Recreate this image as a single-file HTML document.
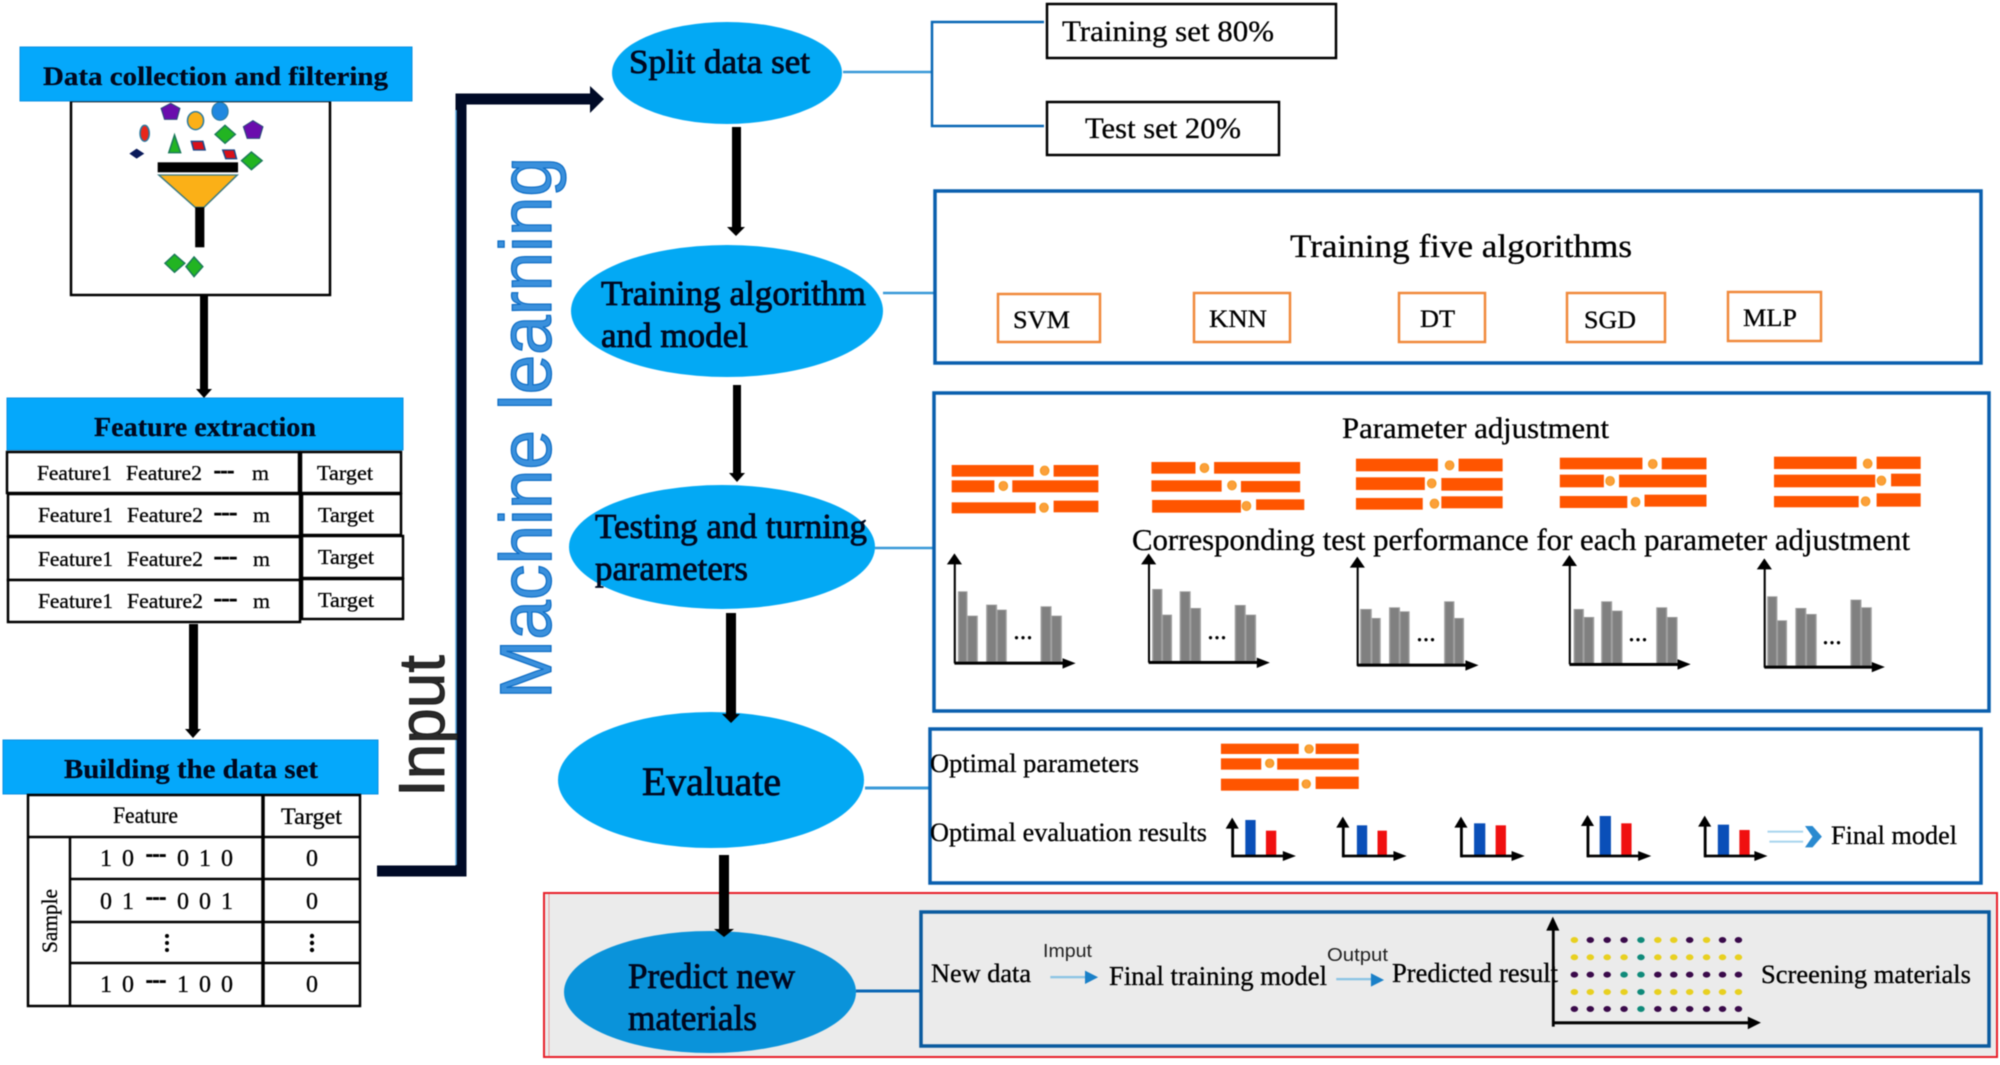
<!DOCTYPE html>
<html><head><meta charset="utf-8"><style>
html,body{margin:0;padding:0;background:#fff;width:2000px;height:1065px;overflow:hidden}
svg{display:block;filter:blur(.6px)}
text{font-family:"Liberation Serif",serif;fill:#000;stroke:#000;stroke-width:.3}
.s{font-family:"Liberation Sans",sans-serif}
.m{stroke:#000820;stroke-width:.8;fill:#000820}
.h{font-weight:bold;fill:#000820;stroke-width:.2}
rect.k{fill:#fff;stroke:#000;stroke-width:2.5}
rect.o{fill:#fff;stroke:#f08a3c;stroke-width:2.5}
rect.bb{fill:#fff;stroke:#0a5fae;stroke-width:3.5}
.r{fill:#ff5500}
.c{fill:#fca03a;stroke:#f59a23;stroke-width:2}
.g{fill:#808080;stroke:#a0a0a0;stroke-width:2}
.d{stroke-width:1}
</style></head><body>
<svg width="2000" height="1065" viewBox="0 0 2000 1065" xmlns="http://www.w3.org/2000/svg">
<rect width="2000" height="1065" fill="#fff"/>

<!-- left column -->
<rect x="71" y="101" width="259" height="194" class="k"/>
<rect x="20" y="47" width="392" height="54" fill="#05a8fb" stroke="#0a90e0"/>
<text x="43" y="85" font-size="26" class="h" textLength="345" lengthAdjust="spacingAndGlyphs">Data collection and filtering</text>

<g transform="scale(.3827,.3333)">
<polygon points="446,310 470,325 462,358 430,358 421,325" fill="#6a0dad" stroke="#2a4a7a" stroke-width="3"/>
<ellipse cx="511" cy="362" rx="21" ry="27" fill="#fbb017" stroke="#2a7aa0" stroke-width="4"/>
<ellipse cx="575" cy="334" rx="21" ry="27" fill="#1f88e0" stroke="#2a7aa0" stroke-width="3"/>
<polygon points="661,362 687,380 678,415 646,415 636,380" fill="#6a0dad" stroke="#2a4a7a" stroke-width="3"/>
<polygon points="588,376 615,403 588,430 562,403" fill="#22b422" stroke="#1a7a5a" stroke-width="4"/>
<ellipse cx="378" cy="400" rx="12" ry="24" fill="#e8261a" stroke="#2a7aa0" stroke-width="4"/>
<polygon points="456,405 472,458 441,458" fill="#22b422" stroke="#1a7a5a" stroke-width="4"/>
<polygon points="500,424 530,424 536,450 506,450" fill="#d8101a" stroke="#1a4a8a" stroke-width="4"/>
<polygon points="582,450 612,450 618,476 590,476" fill="#d8101a" stroke="#1a4a8a" stroke-width="4"/>
<polygon points="657,456 685,482 657,509 631,482" fill="#22b422" stroke="#1a7a5a" stroke-width="4"/>
<polygon points="357,446 377,461 357,476 338,461" fill="#0a1a5a"/>
<rect x="412" y="487" width="210" height="30" fill="#000"/>
<polygon points="415,525 620,525 533,622 510,622" fill="#fbb017" stroke="#3a7a80" stroke-width="4"/>
<rect x="510" y="622" width="24" height="120" fill="#000"/>
<polygon points="456,763 483,790 456,817 431,790" fill="#22b422" stroke="#1a7a5a" stroke-width="4"/>
<polygon points="507,771 530,800 507,830 486,800" fill="#22b422" stroke="#1a7a5a" stroke-width="4"/>
</g>

<rect x="200" y="295" width="8" height="97" fill="#000"/>
<polygon points="204,398 196,389 212,389" fill="#000"/>

<rect x="7" y="398" width="396" height="52" fill="#05a8fb" stroke="#0a90e0"/>
<text x="94" y="436" font-size="27" class="h" textLength="222" lengthAdjust="spacingAndGlyphs">Feature extraction</text>
<rect x="7" y="452" width="292" height="41" class="k"/><rect x="301" y="452" width="100" height="41" class="k"/>
<rect x="8" y="494" width="292" height="42" class="k"/><rect x="302" y="494" width="99" height="41" class="k"/>
<rect x="8" y="537" width="292" height="43" class="k"/><rect x="302" y="536" width="101" height="42" class="k"/>
<rect x="8" y="580" width="292" height="42" class="k"/><rect x="302" y="579" width="101" height="40" class="k"/>

<g font-size="21">
<text x="37" y="480" textLength="75" lengthAdjust="spacingAndGlyphs">Feature1</text><text x="126" y="480" textLength="76" lengthAdjust="spacingAndGlyphs">Feature2</text><text class="d" x="214" y="477" font-weight="bold" textLength="20" lengthAdjust="spacingAndGlyphs">---</text><text x="252" y="480" textLength="17" lengthAdjust="spacingAndGlyphs">m</text><text x="317" y="480" textLength="56" lengthAdjust="spacingAndGlyphs">Target</text>
<text x="38" y="522" textLength="75" lengthAdjust="spacingAndGlyphs">Feature1</text><text x="127" y="522" textLength="76" lengthAdjust="spacingAndGlyphs">Feature2</text><text class="d" x="214" y="519" font-weight="bold" textLength="23" lengthAdjust="spacingAndGlyphs">---</text><text x="253" y="522" textLength="17" lengthAdjust="spacingAndGlyphs">m</text><text x="318" y="522" textLength="56" lengthAdjust="spacingAndGlyphs">Target</text>
<text x="38" y="566" textLength="75" lengthAdjust="spacingAndGlyphs">Feature1</text><text x="127" y="566" textLength="76" lengthAdjust="spacingAndGlyphs">Feature2</text><text class="d" x="214" y="563" font-weight="bold" textLength="23" lengthAdjust="spacingAndGlyphs">---</text><text x="253" y="566" textLength="17" lengthAdjust="spacingAndGlyphs">m</text><text x="318" y="564" textLength="56" lengthAdjust="spacingAndGlyphs">Target</text>
<text x="38" y="608" textLength="75" lengthAdjust="spacingAndGlyphs">Feature1</text><text x="127" y="608" textLength="76" lengthAdjust="spacingAndGlyphs">Feature2</text><text class="d" x="214" y="605" font-weight="bold" textLength="23" lengthAdjust="spacingAndGlyphs">---</text><text x="253" y="608" textLength="17" lengthAdjust="spacingAndGlyphs">m</text><text x="318" y="607" textLength="56" lengthAdjust="spacingAndGlyphs">Target</text>
</g>

<rect x="189" y="624" width="9" height="106" fill="#000"/>
<polygon points="193,738 185,729 201,729" fill="#000"/>

<rect x="3" y="740" width="375" height="54" fill="#05a8fb" stroke="#0a90e0"/>
<text x="64" y="778" font-size="27" class="h" textLength="254" lengthAdjust="spacingAndGlyphs">Building the data set</text>

<g fill="none" stroke="#000" stroke-width="2.5">
<rect x="28" y="795" width="332" height="211" fill="#fff"/>
<line x1="263" y1="795" x2="263" y2="1006" stroke-width="3.5"/>
<line x1="70" y1="837" x2="70" y2="1006"/>
<line x1="28" y1="837" x2="360" y2="837"/>
<line x1="70" y1="879" x2="360" y2="879"/>
<line x1="70" y1="922" x2="360" y2="922"/>
<line x1="70" y1="963" x2="360" y2="963"/>
</g>
<text x="113" y="823" font-size="23" textLength="65" lengthAdjust="spacingAndGlyphs">Feature</text>
<text x="281" y="824" font-size="23" textLength="61" lengthAdjust="spacingAndGlyphs">Target</text>
<g font-size="24" text-anchor="middle">
<text x="106" y="866">1</text><text x="128" y="866">0</text><text x="183" y="866">0</text><text x="205" y="866">1</text><text x="227" y="866">0</text><text x="312" y="866">0</text>
<text x="106" y="909">0</text><text x="128" y="909">1</text><text x="183" y="909">0</text><text x="205" y="909">0</text><text x="227" y="909">1</text><text x="312" y="909">0</text>
<text x="106" y="992">1</text><text x="128" y="992">0</text><text x="183" y="992">1</text><text x="205" y="992">0</text><text x="227" y="992">0</text><text x="312" y="992">0</text>
</g>
<g font-weight="bold" font-size="22">
<text class="d" x="146" y="861" textLength="20" lengthAdjust="spacingAndGlyphs">---</text>
<text class="d" x="146" y="904" textLength="20" lengthAdjust="spacingAndGlyphs">---</text>
<text class="d" x="146" y="987" textLength="20" lengthAdjust="spacingAndGlyphs">---</text>
</g>
<g fill="#000"><circle cx="167" cy="936" r="2"/><circle cx="167" cy="943" r="2"/><circle cx="167" cy="950" r="2"/><circle cx="312" cy="936" r="2.2"/><circle cx="312" cy="943" r="2.2"/><circle cx="312" cy="950" r="2.2"/></g>
<text transform="translate(57,953) rotate(-90)" font-size="22" textLength="64" lengthAdjust="spacingAndGlyphs">Sample</text>

<!-- input connector -->
<polyline points="377,871 461,871 461,99 590,99" fill="none" stroke="#000a26" stroke-width="11"/>
<line x1="456" y1="110" x2="456" y2="865" stroke="#5aa8e0" stroke-width="1.5"/>
<polygon points="604,99 590,86 590,113" fill="#000a26"/>
<text class="s" transform="translate(444,797) rotate(-90)" font-size="65" textLength="142" lengthAdjust="spacingAndGlyphs" style="fill:#2a2a2a;stroke:#111;stroke-width:.8">Input</text>
<text class="s" transform="translate(551,699) rotate(-90)" font-size="73" textLength="542" lengthAdjust="spacingAndGlyphs" style="fill:#3a90dc;stroke:#0d6cc4;stroke-width:1.2">Machine learning</text>

<!-- ellipses -->
<ellipse cx="727" cy="73" rx="115" ry="51" fill="#03a9f4"/>
<ellipse cx="727" cy="311" rx="156" ry="66" fill="#03a9f4"/>
<ellipse cx="722" cy="547" rx="153" ry="62" fill="#03a9f4"/>
<ellipse cx="711" cy="780" rx="153" ry="68" fill="#03a9f4"/>

<text x="629" y="73" font-size="34" class="m" textLength="181" lengthAdjust="spacingAndGlyphs">Split data set</text>
<text x="601" y="305" font-size="35" class="m" textLength="265" lengthAdjust="spacingAndGlyphs">Training algorithm</text>
<text x="601" y="347" font-size="35" class="m" textLength="147" lengthAdjust="spacingAndGlyphs">and model</text>
<text x="595" y="538" font-size="35" class="m" textLength="272" lengthAdjust="spacingAndGlyphs">Testing and turning</text>
<text x="595" y="580" font-size="35" class="m" textLength="153" lengthAdjust="spacingAndGlyphs">parameters</text>
<text x="642" y="795" font-size="40" class="m" textLength="139" lengthAdjust="spacingAndGlyphs">Evaluate</text>

<!-- vertical arrows -->
<rect x="732" y="127" width="9" height="103" fill="#000"/><polygon points="736,236 727,227 745,227" fill="#000"/>
<rect x="733" y="385" width="8" height="90" fill="#000"/><polygon points="737,482 729,473 745,473" fill="#000"/>
<rect x="726" y="613" width="10" height="104" fill="#000"/><polygon points="731,723 722,714 740,714" fill="#000"/>

<!-- split -->
<g fill="none" stroke="#0a67b5" stroke-width="2.5">
<polyline points="843,72 932,72" stroke="#3a9ad8"/>
<polyline points="1044,22 932,22 932,126 1044,126"/>
<line x1="883" y1="293" x2="935" y2="293" stroke="#3a9ad8"/>
<line x1="875" y1="548" x2="934" y2="548" stroke="#3a9ad8"/>
<line x1="865" y1="788" x2="931" y2="788" stroke="#3a9ad8" stroke-width="3"/>
</g>
<rect x="1047" y="4" width="289" height="54" class="k"/>
<rect x="1047" y="102" width="232" height="53" class="k"/>
<text x="1062" y="41" font-size="30" textLength="212" lengthAdjust="spacingAndGlyphs">Training set 80%</text>
<text x="1085" y="138" font-size="30" textLength="156" lengthAdjust="spacingAndGlyphs">Test set 20%</text>

<!-- box 2 -->
<rect x="935" y="191" width="1046" height="172" class="bb"/>
<text x="1290" y="257" font-size="33" textLength="342" lengthAdjust="spacingAndGlyphs">Training five algorithms</text>
<rect x="998" y="294" width="102" height="48" class="o"/>
<rect x="1194" y="293" width="96" height="49" class="o"/>
<rect x="1399" y="293" width="86" height="49" class="o"/>
<rect x="1567" y="293" width="98" height="49" class="o"/>
<rect x="1728" y="292" width="93" height="49" class="o"/>
<g font-size="25">
<text x="1013" y="328" textLength="57" lengthAdjust="spacingAndGlyphs">SVM</text>
<text x="1209" y="327" textLength="58" lengthAdjust="spacingAndGlyphs">KNN</text>
<text x="1420" y="327" textLength="35" lengthAdjust="spacingAndGlyphs">DT</text>
<text x="1584" y="328" textLength="52" lengthAdjust="spacingAndGlyphs">SGD</text>
<text x="1743" y="326" textLength="54" lengthAdjust="spacingAndGlyphs">MLP</text>
</g>

<!-- box 3 -->
<rect x="934" y="393" width="1055" height="318" class="bb"/>
<text x="1342" y="438" font-size="30" textLength="267" lengthAdjust="spacingAndGlyphs">Parameter adjustment</text>
<text x="1132" y="550" font-size="31" textLength="778" lengthAdjust="spacingAndGlyphs">Corresponding test performance for each parameter adjustment</text>

<g transform="translate(920,380) scale(.6887,.3333)">
<g class="r">
<rect x="46" y="255" width="119" height="35"/><rect x="194" y="255" width="65" height="35"/>
<rect x="46" y="301" width="62" height="36"/><rect x="134" y="301" width="125" height="36"/>
<rect x="46" y="367" width="122" height="33"/><rect x="194" y="362" width="65" height="35"/>
<rect x="336" y="246" width="64" height="35"/><rect x="427" y="246" width="125" height="35"/>
<rect x="336" y="301" width="102" height="34"/><rect x="466" y="303" width="86" height="34"/>
<rect x="337" y="360" width="129" height="38"/><rect x="488" y="358" width="70" height="32"/>
<rect x="633" y="236" width="119" height="38"/><rect x="782" y="236" width="64" height="38"/>
<rect x="633" y="292" width="100" height="38"/><rect x="757" y="294" width="89" height="38"/>
<rect x="633" y="354" width="97" height="35"/><rect x="757" y="349" width="89" height="36"/>
<rect x="929" y="233" width="120" height="35"/><rect x="1077" y="233" width="65" height="35"/>
<rect x="929" y="284" width="64" height="38"/><rect x="1015" y="284" width="127" height="38"/>
<rect x="929" y="348" width="98" height="36"/><rect x="1052" y="344" width="90" height="36"/>
<rect x="1240" y="230" width="120" height="37"/><rect x="1389" y="230" width="64" height="37"/>
<rect x="1240" y="284" width="147" height="38"/><rect x="1410" y="281" width="43" height="38"/>
<rect x="1240" y="348" width="123" height="34"/><rect x="1389" y="340" width="64" height="40"/>
</g>
<g class="c">
<ellipse cx="181" cy="272" rx="6" ry="14"/><ellipse cx="121" cy="318" rx="6" ry="14"/><ellipse cx="180" cy="383" rx="6" ry="14"/>
<ellipse cx="413" cy="264" rx="6" ry="14"/><ellipse cx="453" cy="316" rx="6" ry="14"/><ellipse cx="474" cy="378" rx="6" ry="14"/>
<ellipse cx="769" cy="256" rx="6" ry="14"/><ellipse cx="743" cy="310" rx="6" ry="14"/><ellipse cx="747" cy="371" rx="6" ry="14"/>
<ellipse cx="1064" cy="252" rx="6" ry="14"/><ellipse cx="1002" cy="303" rx="6" ry="14"/><ellipse cx="1039" cy="366" rx="6" ry="14"/>
<ellipse cx="1376" cy="251" rx="6" ry="14"/><ellipse cx="1396" cy="302" rx="6" ry="14"/><ellipse cx="1373" cy="364" rx="6" ry="14"/>
</g>
<g class="g">
<rect x="56" y="635" width="12" height="210"/><rect x="69" y="708" width="14" height="137"/><rect x="97" y="675" width="14" height="170"/><rect x="112" y="690" width="13" height="155"/><rect x="176" y="680" width="14" height="165"/><rect x="191" y="708" width="14" height="137"/>
<rect x="338" y="628" width="13" height="215"/><rect x="352" y="705" width="13" height="138"/><rect x="378" y="635" width="14" height="208"/><rect x="393" y="685" width="14" height="158"/><rect x="458" y="676" width="14" height="167"/><rect x="473" y="705" width="14" height="138"/>
<rect x="640" y="688" width="15" height="165"/><rect x="656" y="715" width="12" height="138"/><rect x="682" y="683" width="14" height="170"/><rect x="697" y="695" width="13" height="158"/><rect x="762" y="665" width="13" height="188"/><rect x="776" y="715" width="13" height="138"/>
<rect x="950" y="688" width="13" height="163"/><rect x="964" y="712" width="14" height="139"/><rect x="990" y="665" width="14" height="186"/><rect x="1005" y="693" width="14" height="158"/><rect x="1070" y="683" width="14" height="168"/><rect x="1085" y="712" width="14" height="139"/>
<rect x="1231" y="650" width="13" height="208"/><rect x="1245" y="722" width="13" height="136"/><rect x="1272" y="685" width="14" height="173"/><rect x="1287" y="703" width="14" height="155"/><rect x="1352" y="660" width="14" height="198"/><rect x="1367" y="683" width="14" height="175"/>
</g>
<g fill="#000">
<rect x="49" y="545" width="3" height="305"/><polygon points="50,520 39,553 61,553"/><rect x="50" y="845" width="160" height="9"/><polygon points="226,850 207,835 207,866"/>
<rect x="331" y="545" width="3" height="303"/><polygon points="332,520 321,553 343,553"/><rect x="332" y="843" width="160" height="9"/><polygon points="508,848 489,833 489,864"/>
<rect x="634" y="555" width="3" height="303"/><polygon points="635,530 624,563 646,563"/><rect x="635" y="851" width="160" height="9"/><polygon points="811,856 792,841 792,872"/>
<rect x="942" y="550" width="3" height="303"/><polygon points="943,525 932,558 954,558"/><rect x="943" y="849" width="160" height="9"/><polygon points="1119,853 1100,838 1100,869"/>
<rect x="1225" y="560" width="3" height="303"/><polygon points="1226,535 1215,568 1237,568"/><rect x="1226" y="857" width="160" height="9"/><polygon points="1401,861 1382,846 1382,877"/>
</g>
</g>
<g font-size="26" text-anchor="middle">
<text x="1023" y="639">...</text><text x="1217" y="639">...</text><text x="1426" y="641">...</text><text x="1638" y="641">...</text><text x="1832" y="644">...</text>
</g>

<!-- box 4 -->
<rect x="930" y="729" width="1051" height="154" class="bb"/>
<text x="930" y="772" font-size="26" textLength="209" lengthAdjust="spacingAndGlyphs">Optimal parameters</text>
<text x="930" y="841" font-size="26" textLength="277" lengthAdjust="spacingAndGlyphs">Optimal evaluation results</text>
<text x="1831" y="844" font-size="26" textLength="126" lengthAdjust="spacingAndGlyphs">Final model</text>

<g transform="translate(530,720) scale(.9375,.3333)">
<g class="r">
<rect x="737" y="71" width="83" height="31"/><rect x="838" y="71" width="46" height="31"/>
<rect x="737" y="115" width="43" height="34"/><rect x="797" y="115" width="87" height="34"/>
<rect x="737" y="176" width="83" height="36"/><rect x="838" y="170" width="46" height="37"/>
</g>
<g class="c"><ellipse cx="831" cy="87" rx="4" ry="13"/><ellipse cx="789" cy="130" rx="4" ry="13"/><ellipse cx="828" cy="192" rx="4" ry="13"/></g>
<g fill="#0a4fb8">
<rect x="763" y="300" width="11" height="108"/><rect x="882" y="316" width="11" height="92"/><rect x="1007" y="310" width="12" height="98"/><rect x="1141" y="288" width="12" height="120"/><rect x="1267" y="314" width="12" height="94"/>
</g>
<g fill="#f01010">
<rect x="785" y="332" width="11" height="76"/><rect x="904" y="332" width="10" height="76"/><rect x="1030" y="316" width="11" height="92"/><rect x="1164" y="310" width="11" height="98"/><rect x="1290" y="330" width="11" height="78"/>
</g>
<g fill="#000">
<rect x="748" y="320" width="3" height="92"/><polygon points="749,293 742,326 756,326"/><rect x="749" y="404" width="55" height="8"/><polygon points="817,408 803,393 803,423"/>
<rect x="866" y="320" width="3" height="92"/><polygon points="867,290 860,323 874,323"/><rect x="867" y="404" width="55" height="8"/><polygon points="935,408 921,393 921,423"/>
<rect x="992" y="320" width="3" height="92"/><polygon points="993,290 986,323 1000,323"/><rect x="993" y="404" width="55" height="8"/><polygon points="1061,408 1047,393 1047,423"/>
<rect x="1127" y="315" width="3" height="97"/><polygon points="1128,285 1121,318 1135,318"/><rect x="1128" y="404" width="55" height="8"/><polygon points="1196,408 1182,393 1182,423"/>
<rect x="1252" y="315" width="3" height="97"/><polygon points="1253,287 1246,320 1260,320"/><rect x="1253" y="404" width="55" height="8"/><polygon points="1320,408 1306,393 1306,423"/>
</g>
<rect x="1320" y="332" width="38" height="6" fill="#a8d4ee"/><rect x="1322" y="362" width="36" height="6" fill="#a8d4ee"/>
<polygon points="1360,318 1368,318 1378,350 1368,382 1360,382 1368,350" fill="#2a8ad0"/>
</g>

<!-- red area -->
<rect x="544" y="893" width="1453" height="164" fill="#ebebeb" stroke="#e8202a" stroke-width="2"/>
<line x1="549" y1="894" x2="549" y2="1056" stroke="#e8a0a0" stroke-width="1"/>
<ellipse cx="710" cy="992" rx="146" ry="61" fill="#0a93da"/>
<text x="628" y="988" font-size="36" class="m" textLength="167" lengthAdjust="spacingAndGlyphs">Predict new</text>
<text x="628" y="1030" font-size="36" class="m" textLength="129" lengthAdjust="spacingAndGlyphs">materials</text>
<rect x="719" y="855" width="10" height="75" fill="#000"/><polygon points="724,937 714,929 734,929" fill="#000"/>
<line x1="856" y1="991" x2="921" y2="991" stroke="#0a67b5" stroke-width="3"/>
<rect x="921" y="912" width="1068" height="134" fill="#ebebeb" stroke="#0a5a9e" stroke-width="3.5"/>

<text x="931" y="982" font-size="26" textLength="100" lengthAdjust="spacingAndGlyphs">New data</text>
<text class="s" x="1043" y="957" font-size="18" textLength="49" lengthAdjust="spacingAndGlyphs" style="fill:#222;stroke:none">Imput</text>
<text x="1109" y="985" font-size="27" textLength="218" lengthAdjust="spacingAndGlyphs">Final training model</text>
<text class="s" x="1327" y="961" font-size="18" textLength="61" lengthAdjust="spacingAndGlyphs" style="fill:#222;stroke:none">Output</text>
<text x="1392" y="982" font-size="27" textLength="166" lengthAdjust="spacingAndGlyphs">Predicted result</text>
<text x="1761" y="983" font-size="26" textLength="210" lengthAdjust="spacingAndGlyphs">Screening materials</text>

<g transform="translate(530,720) scale(.9375,.3333)">
<rect x="555" y="768" width="40" height="7" fill="#8cc4e4"/><polygon points="606,772 592,752 592,792" fill="#1a80c8"/>
<rect x="860" y="774" width="40" height="7" fill="#8cc4e4"/><polygon points="911,780 897,760 897,800" fill="#1a80c8"/>
<rect x="1090" y="620" width="3" height="300" fill="#000"/><polygon points="1091,590 1084,632 1098,632" fill="#000"/>
<rect x="1092" y="904" width="208" height="9" fill="#000"/><polygon points="1313,908 1299,890 1299,928" fill="#000"/>
<g>
<g fill="#3a0a4a">
<ellipse cx="1131" cy="660" rx="4" ry="9"/><ellipse cx="1149" cy="660" rx="4" ry="9"/><ellipse cx="1167" cy="660" rx="4" ry="9"/><ellipse cx="1237" cy="660" rx="4" ry="9"/><ellipse cx="1272" cy="660" rx="4" ry="9"/><ellipse cx="1289" cy="660" rx="4" ry="9"/>
<ellipse cx="1114" cy="764" rx="4" ry="9"/><ellipse cx="1131" cy="764" rx="4" ry="9"/><ellipse cx="1149" cy="764" rx="4" ry="9"/><ellipse cx="1203" cy="764" rx="4" ry="9"/><ellipse cx="1220" cy="764" rx="4" ry="9"/><ellipse cx="1237" cy="764" rx="4" ry="9"/><ellipse cx="1255" cy="764" rx="4" ry="9"/><ellipse cx="1272" cy="764" rx="4" ry="9"/><ellipse cx="1289" cy="764" rx="4" ry="9"/>
<ellipse cx="1114" cy="867" rx="4" ry="9"/><ellipse cx="1131" cy="867" rx="4" ry="9"/><ellipse cx="1149" cy="867" rx="4" ry="9"/><ellipse cx="1167" cy="867" rx="4" ry="9"/><ellipse cx="1203" cy="867" rx="4" ry="9"/><ellipse cx="1220" cy="867" rx="4" ry="9"/><ellipse cx="1237" cy="867" rx="4" ry="9"/><ellipse cx="1255" cy="867" rx="4" ry="9"/><ellipse cx="1272" cy="867" rx="4" ry="9"/><ellipse cx="1289" cy="867" rx="4" ry="9"/>
</g>
<g fill="#e8d020">
<ellipse cx="1114" cy="660" rx="4" ry="9"/><ellipse cx="1203" cy="660" rx="4" ry="9"/><ellipse cx="1220" cy="660" rx="4" ry="9"/><ellipse cx="1255" cy="660" rx="4" ry="9"/>
<ellipse cx="1114" cy="712" rx="4" ry="9"/><ellipse cx="1131" cy="712" rx="4" ry="9"/><ellipse cx="1149" cy="712" rx="4" ry="9"/><ellipse cx="1167" cy="712" rx="4" ry="9"/><ellipse cx="1203" cy="712" rx="4" ry="9"/><ellipse cx="1220" cy="712" rx="4" ry="9"/><ellipse cx="1237" cy="712" rx="4" ry="9"/><ellipse cx="1255" cy="712" rx="4" ry="9"/><ellipse cx="1272" cy="712" rx="4" ry="9"/><ellipse cx="1289" cy="712" rx="4" ry="9"/>
<ellipse cx="1114" cy="816" rx="4" ry="9"/><ellipse cx="1131" cy="816" rx="4" ry="9"/><ellipse cx="1149" cy="816" rx="4" ry="9"/><ellipse cx="1167" cy="816" rx="4" ry="9"/><ellipse cx="1203" cy="816" rx="4" ry="9"/><ellipse cx="1220" cy="816" rx="4" ry="9"/><ellipse cx="1237" cy="816" rx="4" ry="9"/><ellipse cx="1255" cy="816" rx="4" ry="9"/><ellipse cx="1272" cy="816" rx="4" ry="9"/><ellipse cx="1289" cy="816" rx="4" ry="9"/>
</g>
<g fill="#0f8a7a">
<ellipse cx="1185" cy="660" rx="4" ry="9"/><ellipse cx="1185" cy="712" rx="4" ry="9"/><ellipse cx="1167" cy="764" rx="4" ry="9"/><ellipse cx="1185" cy="764" rx="4" ry="9"/><ellipse cx="1185" cy="816" rx="4" ry="9"/><ellipse cx="1185" cy="867" rx="4" ry="9"/>
</g>
</g>
</g>
</svg>
</body></html>
